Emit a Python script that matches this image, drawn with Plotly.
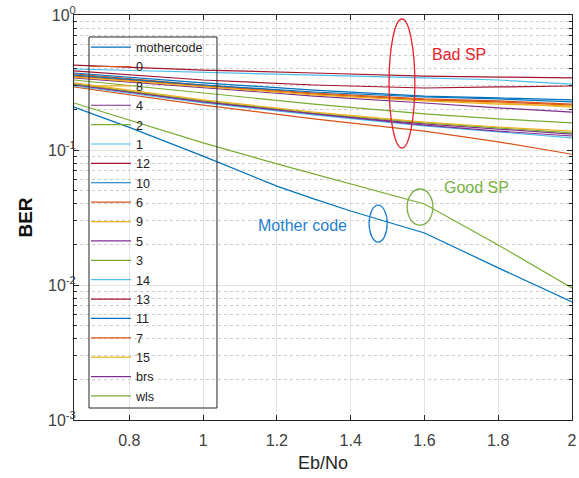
import plotly.graph_objects as go

# ---------------- data ----------------
x_main = [0.65, 0.8, 1.0, 1.2, 1.3, 1.4, 1.6, 1.8, 2.0]
mothercode = [0.208, 0.147, 0.090, 0.054, 0.0434, 0.0353, 0.0243, 0.0134, 0.0075]
wls = [0.223, 0.167, 0.113, 0.079, 0.0664, 0.056, 0.0398, 0.0198, 0.0095]

x_sp = [0.65, 1.0, 1.3, 1.6, 1.8, 2.0]
sp_0 = [0.366, 0.303, 0.264, 0.239, 0.231, 0.219]
sp_8 = [0.359, 0.298, 0.260, 0.235, 0.223, 0.208]
sp_4 = [0.342, 0.288, 0.251, 0.223, 0.205, 0.191]
sp_2 = [0.330, 0.264, 0.219, 0.185, 0.170, 0.159]
sp_1 = [0.398, 0.378, 0.359, 0.342, 0.330, 0.308]
sp_12 = [0.426, 0.391, 0.372, 0.353, 0.347, 0.342]
sp_10 = [0.372, 0.314, 0.278, 0.251, 0.243, 0.235]
sp_6 = [0.353, 0.298, 0.260, 0.235, 0.227, 0.215]
sp_9 = [0.347, 0.293, 0.256, 0.231, 0.219, 0.212]
sp_5 = [0.308, 0.227, 0.185, 0.156, 0.143, 0.131]
sp_3 = [0.308, 0.231, 0.188, 0.159, 0.146, 0.134]
sp_14 = [0.298, 0.223, 0.182, 0.151, 0.136, 0.123]
sp_13 = [0.385, 0.330, 0.303, 0.288, 0.293, 0.298]
sp_11 = [0.359, 0.303, 0.269, 0.247, 0.239, 0.227]
sp_7 = [0.293, 0.215, 0.170, 0.138, 0.115, 0.093]
sp_15 = [0.314, 0.235, 0.191, 0.161, 0.148, 0.138]
sp_brs = [0.303, 0.227, 0.185, 0.153, 0.138, 0.127]

series_names = ["mothercode", "0", "8", "4", "2", "1", "12", "10", "6", "9",
                "5", "3", "14", "13", "11", "7", "15", "brs", "wls"]
series_x = [x_main] + [x_sp] * 17 + [x_main]
series_y = [mothercode, sp_0, sp_8, sp_4, sp_2, sp_1, sp_12, sp_10, sp_6, sp_9,
            sp_5, sp_3, sp_14, sp_13, sp_11, sp_7, sp_15, sp_brs, wls]

x_ticks = [0.8, 1.0, 1.2, 1.4, 1.6, 1.8, 2.0]
x_ticklabels = ["0.8", "1", "1.2", "1.4", "1.6", "1.8", "2"]
y_ticks = [1e-3, 1e-2, 1e-1, 1]
y_ticklabels = ["10<sup>-3</sup>", "10<sup>-2</sup>", "10<sup>-1</sup>", "10<sup>0</sup>"]
y_minor = [m * 10.0 ** e for e in (-3, -2, -1) for m in range(2, 10)]

# ---------------- style ----------------
matlab = ["#0072BD", "#D95319", "#EDB120", "#7E2F8E", "#77AC30", "#4DBEEE", "#A2142F"]
FONT = "Liberation Sans, Arial, sans-serif"
AX = "#262626"

fig = go.Figure()
for i, (nm, xs, ys) in enumerate(zip(series_names, series_x, series_y)):
    fig.add_trace(go.Scatter(x=xs, y=ys, mode="lines", name=nm,
                             line=dict(color=matlab[i % 7], width=1.2)))

axis_common = dict(showline=True, linecolor=AX, linewidth=1, mirror="ticks",
                   ticks="inside", ticklen=5, tickcolor=AX, ticklabeloverflow="allow",
                   automargin=False,
                   tickfont=dict(family=FONT, size=16, color="#404040"),
                   gridcolor="#e3e3e3", gridwidth=1, zeroline=False)

fig.update_layout(
    width=579, height=478,
    margin=dict(l=74, r=7, t=15, b=58),
    paper_bgcolor="white", plot_bgcolor="white",
    font=dict(family=FONT, color=AX),
    xaxis=dict(range=[0.65, 2.0], tickvals=x_ticks, ticktext=x_ticklabels,
               ticklabelstandoff=6,
               title=dict(text="Eb/No", font=dict(family=FONT, size=18, color=AX), standoff=8),
               **axis_common),
    yaxis=dict(type="log", range=[-3, 0], tickvals=y_ticks, ticktext=y_ticklabels,
               ticklabelstandoff=-6,
               title=dict(text="<b>BER</b>", font=dict(family=FONT, size=19, color="#111"), standoff=10),
               minor=dict(tickvals=y_minor, ticks="inside", ticklen=3, tickcolor=AX,
                          showgrid=True, gridcolor="#cccccc", griddash="dot", gridwidth=1),
               **axis_common),
    legend=dict(x=0.024, y=0.957, xanchor="left", yanchor="top",
                bgcolor="rgba(0,0,0,0)", borderwidth=0,
                font=dict(family=FONT, size=12.6, color="#222"),
                tracegroupgap=0, itemwidth=40),
    showlegend=True,
)

# legend frame
fig.add_shape(type="rect", xref="paper", yref="paper", x0=0.0301, x1=0.2871, y0=0.0296, y1=0.9457,
              line=dict(color=AX, width=1), fillcolor="rgba(0,0,0,0)")

# annotation ellipses (data coordinates)
fig.add_shape(type="circle", xref="x", yref="y", x0=1.504, x1=1.574, y0=0.1035, y1=0.934,
              line=dict(color="#e8202a", width=1.3))
fig.add_shape(type="circle", xref="x", yref="y", x0=1.45, x1=1.499, y0=0.0208, y1=0.0391,
              line=dict(color="#1f7fd0", width=1.3))
fig.add_shape(type="circle", xref="x", yref="y", x0=1.553, x1=1.623, y0=0.0278, y1=0.0514,
              line=dict(color="#78b040", width=1.3))

fig.add_annotation(x=1.693, y=-0.289, xref="x", yref="y", text="Bad SP", showarrow=False,
                   font=dict(family=FONT, size=16, color="#e8202a"))
fig.add_annotation(x=1.269, y=-1.556, xref="x", yref="y", text="Mother code", showarrow=False,
                   font=dict(family=FONT, size=16, color="#1f7fd0"))
fig.add_annotation(x=1.742, y=-1.281, xref="x", yref="y", text="Good SP", showarrow=False,
                   font=dict(family=FONT, size=16, color="#78b040"))

fig.write_html("out.html", config={"displayModeBar": False},
               post_script="document.body.style.margin='0';")
